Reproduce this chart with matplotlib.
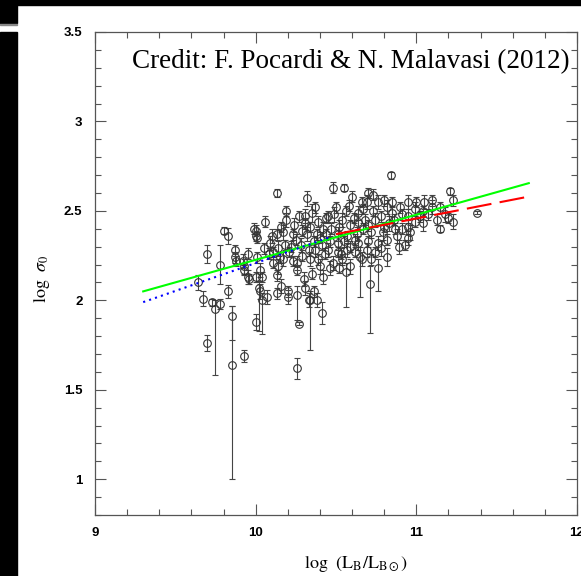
import numpy as np
import matplotlib
matplotlib.use('Agg')
import matplotlib.pyplot as plt
from matplotlib.patches import Rectangle
from matplotlib.ticker import MultipleLocator

plt.rcParams['mathtext.fontset'] = 'stix'

# (log L_B, log sigma_0, err) -- symmetric error bars
left_pts = [
    (9.64, 2.10, 0.04), (9.67, 2.01, 0.04), (9.70, 2.26, 0.05), (9.70, 1.76, 0.045),
    (9.73, 1.99, 0.02), (9.78, 2.20, 0.11), (9.78, 1.98, 0.03), (9.80, 2.39, 0.02),
    (9.83, 2.36, 0.045), (9.83, 2.05, 0.035), (9.87, 2.28, 0.03), (9.87, 2.24, 0.03),
    (9.88, 2.22, 0.03), (9.92, 2.22, 0.04), (9.95, 2.26, 0.03), (9.93, 2.19, 0.04),
    (9.93, 2.17, 0.03), (9.95, 2.13, 0.04), (9.96, 2.12, 0.03), (9.99, 2.40, 0.03),
    (10.00, 2.36, 0.03), (10.00, 2.13, 0.03), (9.93, 1.69, 0.035), (10.00, 1.88, 0.045),
]
mid_pts = [
    (10.13, 2.60, 0.02), (10.32, 2.57, 0.04), (10.19, 2.50, 0.03), (10.19, 2.45, 0.04),
    (10.16, 2.41, 0.03), (10.17, 2.38, 0.04), (10.13, 2.37, 0.03), (10.31, 2.47, 0.04),
    (10.31, 2.43, 0.03), (10.35, 2.49, 0.05), (10.29, 2.39, 0.03), (10.32, 2.37, 0.04),
    (10.44, 2.46, 0.03), (10.42, 2.40, 0.04), (10.38, 2.37, 0.03), (10.00, 2.39, 0.03),
    (10.01, 2.35, 0.03), (10.09, 2.32, 0.04), (10.11, 2.27, 0.03), (10.08, 2.26, 0.03),
    (10.14, 2.29, 0.04), (10.15, 2.24, 0.03), (10.17, 2.23, 0.04), (10.23, 2.22, 0.03),
    (10.26, 2.21, 0.04), (10.26, 2.17, 0.03), (10.34, 2.23, 0.04), (10.39, 2.23, 0.03),
    (10.37, 2.28, 0.04), (10.33, 2.28, 0.03), (10.40, 2.19, 0.04), (10.43, 2.26, 0.03),
    (10.01, 2.24, 0.03), (10.03, 2.17, 0.04), (10.04, 2.13, 0.03), (10.03, 2.05, 0.04),
    (10.07, 2.02, 0.04), (10.13, 2.04, 0.03), (10.16, 2.08, 0.04), (10.13, 2.14, 0.03),
    (10.14, 2.19, 0.04), (10.20, 2.05, 0.03), (10.20, 2.02, 0.04), (10.31, 2.07, 0.04),
    (10.36, 2.05, 0.03), (10.38, 2.00, 0.04), (10.33, 2.00, 0.04), (10.27, 1.87, 0.01),
    (10.26, 1.62, 0.06), (10.22, 2.30, 0.03), (10.25, 2.34, 0.03), (10.28, 2.31, 0.04),
    (10.21, 2.27, 0.03), (10.06, 2.44, 0.03), (10.10, 2.36, 0.04), (10.36, 2.33, 0.03),
    (10.41, 2.31, 0.03), (10.24, 2.42, 0.04), (10.39, 2.44, 0.03), (10.05, 2.29, 0.03),
    (10.29, 2.25, 0.03), (10.18, 2.31, 0.03), (10.42, 2.13, 0.04), (10.35, 2.15, 0.03),
    (10.27, 2.47, 0.03), (10.34, 2.41, 0.03), (10.40, 2.35, 0.03), (10.23, 2.37, 0.03),
    (10.11, 2.21, 0.03), (10.30, 2.12, 0.04), (10.44, 2.37, 0.03), (10.37, 2.52, 0.03),
]
high_pts = [
    (10.55, 2.63, 0.02), (10.84, 2.70, 0.02), (10.70, 2.60, 0.03), (10.69, 2.55, 0.04),
    (10.66, 2.55, 0.03), (10.64, 2.49, 0.04), (10.56, 2.50, 0.03), (10.49, 2.48, 0.04),
    (10.45, 2.47, 0.03), (10.76, 2.55, 0.04), (10.80, 2.56, 0.03), (10.82, 2.52, 0.04),
    (10.85, 2.55, 0.03), (10.85, 2.49, 0.04), (10.73, 2.50, 0.03), (10.74, 2.45, 0.04),
    (10.68, 2.45, 0.03), (10.64, 2.44, 0.04), (10.59, 2.42, 0.03), (10.52, 2.41, 0.04),
    (10.47, 2.40, 0.03), (10.51, 2.37, 0.04), (10.57, 2.36, 0.03), (10.63, 2.37, 0.04),
    (10.72, 2.38, 0.03), (10.79, 2.38, 0.04), (10.87, 2.40, 0.03), (10.88, 2.36, 0.04),
    (10.82, 2.34, 0.03), (10.76, 2.32, 0.04), (10.70, 2.33, 0.03), (10.64, 2.32, 0.04),
    (10.59, 2.30, 0.03), (10.51, 2.32, 0.04), (10.46, 2.33, 0.03), (10.45, 2.28, 0.04),
    (10.51, 2.27, 0.03), (10.57, 2.28, 0.04), (10.62, 2.27, 0.03), (10.69, 2.28, 0.04),
    (10.74, 2.27, 0.03), (10.82, 2.24, 0.05), (10.89, 2.30, 0.04), (10.72, 2.23, 0.03),
    (10.66, 2.23, 0.04), (10.54, 2.23, 0.03), (10.48, 2.21, 0.04), (10.46, 2.18, 0.04),
    (10.52, 2.18, 0.03), (10.59, 2.19, 0.04), (10.48, 2.63, 0.03), (10.60, 2.58, 0.03),
    (10.73, 2.59, 0.03), (10.78, 2.47, 0.03), (10.61, 2.46, 0.03), (10.54, 2.45, 0.04),
    (10.67, 2.40, 0.03), (10.83, 2.43, 0.04), (10.50, 2.52, 0.03), (10.78, 2.29, 0.04),
    (10.58, 2.53, 0.03), (10.62, 2.34, 0.03), (10.70, 2.42, 0.03), (10.55, 2.33, 0.03),
    (10.80, 2.41, 0.03), (10.67, 2.51, 0.03), (10.86, 2.45, 0.03), (10.53, 2.26, 0.03),
]
right_pts = [
    (10.95, 2.55, 0.04), (11.21, 2.61, 0.02), (11.23, 2.56, 0.03), (11.38, 2.49, 0.01),
    (11.10, 2.56, 0.03), (11.05, 2.55, 0.04), (11.00, 2.55, 0.03), (10.99, 2.51, 0.04),
    (11.04, 2.50, 0.03), (11.10, 2.52, 0.04), (11.15, 2.52, 0.03), (11.07, 2.48, 0.03),
    (11.18, 2.48, 0.04), (11.20, 2.46, 0.03), (11.23, 2.44, 0.04), (11.13, 2.45, 0.03),
    (11.15, 2.40, 0.02), (11.04, 2.43, 0.04), (10.99, 2.44, 0.03), (10.95, 2.47, 0.04),
    (10.91, 2.48, 0.03), (10.95, 2.41, 0.04), (10.91, 2.40, 0.03), (10.96, 2.38, 0.04),
    (10.93, 2.31, 0.03), (10.95, 2.35, 0.04), (10.90, 2.52, 0.03), (11.02, 2.47, 0.03),
]
# (log L_B, log sigma_0, lower err, upper err) -- long asymmetric bars
long_pts = [
    (9.75, 1.95, 0.37, 0.05), (9.85, 1.91, 0.13, 0.06), (9.85, 1.64, 0.64, 0.33),
    (10.02, 2.07, 0.24, 0.04), (10.04, 2.00, 0.19, 0.04), (10.34, 2.00, 0.28, 0.05),
    (10.41, 1.93, 0.06, 0.06), (10.56, 2.16, 0.20, 0.05), (10.71, 2.09, 0.27, 0.10),
    (10.76, 2.18, 0.13, 0.05), (10.26, 2.03, 0.14, 0.05), (10.65, 2.24, 0.22, 0.06),
]

# fitted relations (endpoints)
green_x, green_y = [9.30, 11.70], [2.05, 2.655]
blue_x, blue_y = [9.30, 10.47], [1.99, 2.355]
red_x, red_y = [10.50, 11.70], [2.37, 2.58]

sym = left_pts + mid_pts + high_pts + right_pts
x = np.array([p[0] for p in sym] + [p[0] for p in long_pts])
y = np.array([p[1] for p in sym] + [p[1] for p in long_pts])
lo = np.array([p[2] for p in sym] + [p[2] for p in long_pts])
hi = np.array([p[2] for p in sym] + [p[3] for p in long_pts])

fig = plt.figure(figsize=(5.81, 5.76), dpi=100)
# black frame bits of the screenshot
fig.patches.append(Rectangle((0, 1 - 5 / 576), 1, 5 / 576, transform=fig.transFigure, color='black', zorder=0))
fig.patches.append(Rectangle((0, 0), 17 / 581, 1 - 32 / 576, transform=fig.transFigure, color='black', zorder=0))
fig.patches.append(Rectangle((0, 1 - 23 / 576), 17 / 581, 23 / 576, transform=fig.transFigure, color='black', zorder=0))
fig.patches.append(Rectangle((0, 1 - 25 / 576), 17 / 581, 1 / 576, transform=fig.transFigure, color='#888888', zorder=0))

ax = fig.add_axes([95 / 581, 1 - 515 / 576, 482 / 581, 483 / 576])

ax.errorbar(x, y, yerr=[lo, hi], fmt='o', ms=5.5, mfc='none', mec='#333333', mew=0.8,
            ecolor='#444444', elinewidth=0.8, capsize=2.5, capthick=0.8, zorder=2)

ax.plot(green_x, green_y, color='#00ff00', lw=1.5, zorder=3)
ax.plot(blue_x, blue_y, color='#0000ff', lw=1.5, ls=(0, (1, 2)), zorder=3)
ax.plot(red_x, red_y, color='#ff0000', lw=1.5, ls=(0, (12, 4)), zorder=3)

ax.set_xlim(9, 12)
ax.set_ylim(0.8, 3.5)
ax.xaxis.set_minor_locator(MultipleLocator(0.2))
ax.yaxis.set_minor_locator(MultipleLocator(0.1))
ax.set_yticks([1, 1.5, 2, 2.5, 3, 3.5])
ax.set_yticklabels(['1', '1.5', '2', '2.5', '3', '3.5'])
ax.set_xticks([9, 10, 11, 12])
ax.set_xticklabels(['9', '10', '11', '12'])

ax.tick_params(which='both', direction='in', top=True, right=True, color='#555555', width=0.8)
ax.tick_params(which='major', length=8)
ax.tick_params(which='minor', length=4)
ax.tick_params(axis='x', pad=9)
ax.tick_params(axis='y', pad=9)
for lab in ax.get_xticklabels() + ax.get_yticklabels():
    lab.set_fontfamily('Liberation Sans')
    lab.set_fontsize(9.5)
    lab.set_fontweight('bold')
for sp in ax.spines.values():
    sp.set_color('#555555')
    sp.set_linewidth(0.9)

ax.set_xlabel(r'$\mathrm{log\ \ (L_B/L_{B\odot})}$', fontsize=13)
ax.set_ylabel(r'$\mathrm{log}\ \ \sigma_0$', fontsize=13)
ax.xaxis.set_label_coords((356 - 95) / 482, -(554 - 515) / 483)
ax.yaxis.set_label_coords(-(95 - 52) / 482, 0.49)

ax.text(0.531, 0.938, 'Credit: F. Pocardi & N. Malavasi (2012)', transform=ax.transAxes,
        ha='center', va='center', fontsize=19.5, family='Liberation Serif')

fig.savefig('out.png', dpi=100)
